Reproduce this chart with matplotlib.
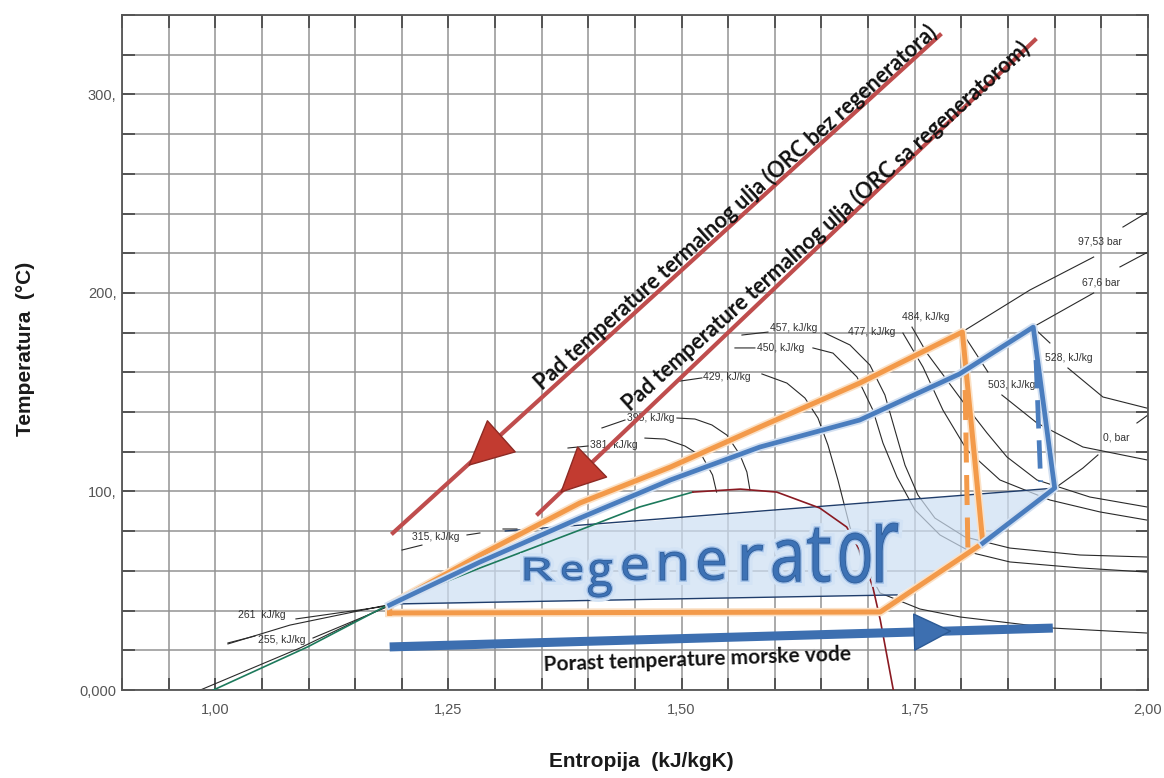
import numpy as np
import matplotlib
matplotlib.use('Agg')
import matplotlib.pyplot as plt
import matplotlib.patheffects as pe
import matplotlib.transforms as mtransforms
from matplotlib.textpath import TextPath
from matplotlib.patches import PathPatch, Polygon
from matplotlib.font_manager import FontProperties

# ---- axes ----
s_ticks = [1.00, 1.25, 1.50, 1.75, 2.00]
s_tick_labels = ['1,00', '1,25', '1,50', '1,75', '2,00']
t_ticks = [0, 100, 200, 300]
t_tick_labels = ['0,000', '100,', '200,', '300,']

# ---- saturation dome ----
liquid_s = [0.998, 1.099, 1.185, 1.284, 1.391, 1.455, 1.512]
liquid_t = [0, 21.7, 42.8, 61.5, 80.6, 92.2, 99.7]
vapor_s = [1.512, 1.563, 1.602, 1.648, 1.677, 1.691, 1.705, 1.713, 1.727]
vapor_t = [99.7, 101.2, 99.7, 91.7, 82.1, 70.5, 51.9, 35.3, 0]
liq_black_s = [0.984, 1.091, 1.184]
liq_black_t = [0, 21.2, 42.3]

# ---- ORC cycles ----
orange_s = [1.187, 1.187, 1.284, 1.391, 1.488, 1.584, 1.691, 1.801, 1.823, 1.713, 1.187]
orange_t = [38.8, 42.8, 68.0, 94.2, 112.3, 132.5, 154.6, 180.3, 74.0, 39.3, 38.8]
orange_dash_s = [1.804, 1.807]
orange_dash_t = [151.1, 70.5]
blue_s = [1.187, 1.284, 1.391, 1.488, 1.584, 1.691, 1.798, 1.877, 1.900, 1.823]
blue_t = [42.8, 64.5, 86.6, 105.8, 122.4, 136.0, 159.2, 182.8, 101.7, 74.0]
blue_dash_s = [1.880, 1.885]
blue_dash_t = [166.2, 104.8]

# ---- regenerator zone ----
regen_s = [1.187, 1.284, 1.348, 1.900, 1.823, 1.731]
regen_t = [42.8, 65.5, 80.6, 101.7, 74.0, 47.9]
regen_top_s = [1.311, 1.900]
regen_top_t = [80.1, 101.7]
regen_bot_s = [1.187, 1.731]
regen_bot_t = [43.3, 47.9]

# ---- arrows ----
oil1_s = [1.1905, 1.777]
oil1_t = [79.1, 329.9]
oil1_head = [(1.301, 125.4), (1.271, 112.8)]
oil2_s = [1.346, 1.8788]
oil2_t = [88.7, 327.4]
oil2_head = [(1.3985, 112.3), (1.3696, 99.2)]
sea_s = [1.187, 1.898]
sea_t = [21.7, 31.2]
sea_head = [(1.7534, 29.2), (1.7898, 29.7)]

# ---- isenthalps / isobars (thin black) ----
h255_s = [1.0136, 1.0426, None, 1.1048, 1.1841]
h255_t = [23.7, 27.2, None, 26.2, 41.8]
h261_s = [1.0136, 1.0801, 1.1841, None, 1.0865, 1.1841]
h261_t = [23.2, 32.7, 42.8, None, 35.8, 42.3]
h315_s = [1.2002, 1.2216, None, 1.2699, 1.2838, None, 1.3085, 1.3235]
h315_t = [70.5, 73.0, None, 78.1, 79.1, None, 81.1, 81.1]
h381_s = [1.3782, 1.3996, None, 1.4607, 1.4821, 1.5036, 1.5225, 1.5332, 1.5375]
h381_t = [121.9, 122.9, None, 126.9, 126.4, 122.9, 117.4, 108.3, 99.7]
h395_s = [1.4146, 1.4393, None, 1.495, 1.5143, 1.5325, 1.5486, 1.5626, 1.570, 1.5733]
h395_t = [132.0, 136.0, None, 137.0, 136.5, 133.5, 128.4, 118.4, 109.8, 100.7]
h429_s = [1.4982, 1.5218, None, 1.5861, 1.6129, 1.6322, 1.6462, 1.6569, 1.6676, 1.6805,
          1.6934, 1.7127, 1.7555, 1.7984, 1.8981, 1.9989]
h429_t = [155.6, 157.2, None, 159.2, 154.6, 147.1, 137.0, 123.4, 105.8, 82.1,
          65.5, 48.9, 40.8, 36.8, 31.2, 28.7]
h450_s = [1.5572, 1.5786, None, 1.6408, 1.6623, 1.688, 1.7051, 1.7159, 1.7309, 1.7502,
          1.777, 1.8124, 1.852, 1.9271, 1.9989]
h450_t = [172.3, 172.3, None, 172.3, 169.7, 157.7, 141.0, 124.4, 107.3, 90.7,
          78.1, 69.0, 64.5, 61.5, 59.4]
h457_s = [1.5647, 1.5926, None, 1.6537, 1.6805, 1.7019, 1.718, 1.7287, 1.7395, 1.7534,
          1.7716, 1.8038, 1.852, 1.9271, 1.9989]
h457_t = [178.8, 180.3, None, 179.8, 173.8, 163.7, 148.6, 131.0, 113.3, 98.2,
          86.6, 77.1, 71.5, 68.0, 67.0]
h477_s = [1.7373, 1.7588, 1.7802, 1.8059, 1.8413, 1.8949, 1.9485, 1.9989]
h477_t = [179.8, 162.7, 141.0, 120.9, 105.8, 95.7, 89.7, 85.6]
h484_s = [1.747, 1.763, 1.7845, 1.8059, 1.8274, 1.8488, 1.881, 1.9378, 1.9989]
h484_t = [182.8, 169.7, 156.1, 142.5, 129.5, 117.4, 105.8, 97.2, 92.2]
h503_s = [1.8006, 1.8284, None, 1.8434, 1.881, 1.9303, 1.9989]
h503_t = [180.3, 160.2, None, 148.6, 134.5, 122.4, 115.9]
h528_s = [1.8767, 1.8949, None, 1.9142, 1.9517, 1.9989]
h528_t = [182.8, 174.8, None, 162.2, 147.6, 142.0]
p9753_s = [1.8006, 1.8735, 1.9418, None, 1.9732, 2.0]
p9753_t = [180.3, 201.5, 218.1, None, 233.2, 240.8]
p676_s = [1.8767, 1.9418, None, 1.97, 2.0]
p676_t = [182.8, 200.0, None, 213.1, 220.6]
p0_s = [1.9003, 1.9303, 1.9464, None, 1.9882, 2.0]
p0_t = [101.7, 111.8, 118.4, None, 134.5, 138.5]

curve_labels = ['255, kJ/kg', '261  kJ/kg', '315, kJ/kg', '381, kJ/kg', '395, kJ/kg',
                '429, kJ/kg', '450, kJ/kg', '457, kJ/kg', '477, kJ/kg', '484, kJ/kg',
                '503, kJ/kg', '528, kJ/kg', '97,53 bar', '67,6 bar', '0, bar']
label_s = [1.0458, 1.0244, 1.2109, 1.4017, 1.4414, 1.5229, 1.5808, 1.5947, 1.6784,
           1.7362, 1.8284, 1.8896, 1.9249, 1.9292, 1.9517]
label_t = [25.2, 37.8, 77.1, 123.4, 137.0, 157.7, 172.3, 182.3, 180.3,
           187.9, 153.6, 167.2, 225.7, 205.5, 127.4]

# ---- "Regenerator" letter boxes (s0, s1, t0, t1) ----
regen_letters = list('Regenerator')
letter_s0 = [1.332, 1.372, 1.400, 1.437, 1.477, 1.518, 1.565, 1.598, 1.635, 1.670, 1.709]
letter_s1 = [1.361, 1.393, 1.425, 1.463, 1.504, 1.546, 1.587, 1.627, 1.659, 1.702, 1.732]
letter_t0 = [55.4, 55.4, 46.8, 55.4, 55.4, 55.4, 55.4, 54.4, 54.4, 53.9, 54.4]
letter_t1 = [66.5, 64.5, 65.5, 68.0, 69.5, 71.5, 73.0, 75.6, 81.6, 79.1, 84.1]

SANS = ['Liberation Sans', 'DejaVu Sans']
BOLD = ['Lato', 'DejaVu Sans']


def thin(ax, s, t):
    s = [np.nan if v is None else v for v in s]
    t = [np.nan if v is None else v for v in t]
    ax.plot(s, t, color='#2a2a2a', lw=0.8, zorder=2)


def head(ax, pts, fc, ec, hl, hw):
    (bs, bt), (ts, tt) = pts
    ax.annotate('', xy=(ts, tt), xytext=(bs, bt),
                arrowprops=dict(arrowstyle='-|>,head_length=%s,head_width=%s' % (hl, hw),
                                mutation_scale=20, fc=fc, ec=ec, lw=1,
                                shrinkA=0, shrinkB=0), zorder=8)


def word(ax):
    fp = FontProperties(family='Open Sans')
    for ch, s0, s1, t0, t1 in zip(regen_letters, letter_s0, letter_s1, letter_t0, letter_t1):
        tp = TextPath((0, 0), ch, size=100, prop=fp)
        box = mtransforms.Bbox([[s0, t0], [s1, t1]])
        tr = mtransforms.BboxTransform(tp.get_extents(), box) + ax.transData
        p = PathPatch(tp, transform=tr, fc='#3d72b5', ec='#2b5a97', lw=0.6, zorder=9)
        p.set_path_effects([pe.Stroke(linewidth=7, foreground='#d3e3f5'),
                            pe.Stroke(linewidth=2.5, foreground='#9dbde6'), pe.Normal()])
        ax.add_patch(p)


fig = plt.figure(figsize=(11.64, 7.78), dpi=100)
ax = fig.add_axes([0.1048, 0.1131, 0.8814, 0.8676])
ax.set_xlim(0.90, 2.00)
ax.set_ylim(0, 340)

ax.set_xticks(s_ticks)
ax.set_xticklabels(s_tick_labels)
ax.set_yticks(t_ticks)
ax.set_yticklabels(t_tick_labels)
ax.set_xticks(np.arange(0.90, 2.001, 0.05), minor=True)
ax.set_yticks(np.arange(0, 341, 20), minor=True)
ax.grid(which='both', color='#939393', lw=1.1, zorder=0)
ax.set_axisbelow(True)
ax.tick_params(which='both', direction='in', length=9, width=1.2, color='#444444',
               top=True, right=True, labelsize=10.5, labelcolor='#555555')
ax.tick_params(axis='x', pad=9)
ax.tick_params(axis='y', pad=4)
for lbl in ax.get_xticklabels() + ax.get_yticklabels():
    lbl.set_family(SANS)
for sp in ax.spines.values():
    sp.set_color('#555555')
    sp.set_linewidth(1.3)

# thin property lines
for s, t in [(h255_s, h255_t), (h261_s, h261_t), (h315_s, h315_t), (h381_s, h381_t),
             (h395_s, h395_t), (h429_s, h429_t), (h450_s, h450_t), (h457_s, h457_t),
             (h477_s, h477_t), (h484_s, h484_t), (h503_s, h503_t), (h528_s, h528_t),
             (p9753_s, p9753_t), (p676_s, p676_t), (p0_s, p0_t), (liq_black_s, liq_black_t)]:
    thin(ax, s, t)
for txt, s, t in zip(curve_labels, label_s, label_t):
    ax.text(s, t, txt, fontsize=7.5, color='#333333', ha='left', va='center',
            family=SANS, zorder=3)

# regenerator shaded zone
ax.add_patch(Polygon(list(zip(regen_s, regen_t)), closed=True, fc='#cddff3',
                     ec='none', alpha=0.7, zorder=3))
ax.plot(regen_top_s, regen_top_t, color='#1f3d6b', lw=1.0, zorder=4)
ax.plot(regen_bot_s, regen_bot_t, color='#1f3d6b', lw=1.0, zorder=4)

# saturation dome
ax.plot(liquid_s, liquid_t, color='#1d7a5c', lw=1.2, zorder=4)
ax.plot(vapor_s, vapor_t, color='#8a1a22', lw=1.2, zorder=4)

# cycles
glow_o = [pe.Stroke(linewidth=6, foreground='#fbe1c6'), pe.Normal()]
glow_b = [pe.Stroke(linewidth=6, foreground='#d3e0f1'), pe.Normal()]
ax.plot(orange_s, orange_t, color='#f39a4a', lw=3.6, solid_joinstyle='round',
        path_effects=glow_o, zorder=6)
ax.plot(orange_dash_s, orange_dash_t, color='#f39a4a', lw=3.6, dashes=(6, 2.5), zorder=6)
ax.plot(blue_s, blue_t, color='#4a7dbe', lw=3.4, solid_joinstyle='round',
        path_effects=glow_b, zorder=7)
ax.plot(blue_dash_s, blue_dash_t, color='#4a7dbe', lw=3.4, dashes=(6, 2.5), zorder=7)

# thermal oil arrows
ax.plot(oil1_s, oil1_t, color='#bf4d4d', lw=3.0, zorder=7)
ax.plot(oil2_s, oil2_t, color='#bf4d4d', lw=3.0, zorder=7)
head(ax, oil1_head, '#c23b30', '#8d2a24', 1.55, 0.75)
head(ax, oil2_head, '#c23b30', '#8d2a24', 1.55, 0.75)

# sea water arrow
ax.plot(sea_s, sea_t, color='#3d6fb0', lw=6.5, solid_capstyle='butt', zorder=7)
head(ax, sea_head, '#3d6fb0', '#2c5a95', 1.3, 0.65)

# text along arrows
ax.text(1.5626, 240.3, 'Pad temperature termalnog ulja (ORC bez regeneratora)',
        rotation=42, rotation_mode='anchor', ha='center', va='baseline',
        fontsize=15.5, fontweight='bold', family=BOLD, color='#111111', zorder=10)
ax.text(1.6601, 230.9, 'Pad temperature termalnog ulja (ORC sa regeneratorom)',
        rotation=42, rotation_mode='anchor', ha='center', va='baseline',
        fontsize=15.5, fontweight='bold', family=BOLD, color='#111111', zorder=10)
ax.text(1.5165, 15.5, 'Porast temperature morske vode', rotation=2,
        rotation_mode='anchor', ha='center', va='center',
        fontsize=15, fontweight='bold', family=BOLD, color='#111111', zorder=10)

word(ax)

fig.text(0.5507, 0.0206, 'Entropija  (kJ/kgK)', ha='center', va='center',
         fontsize=15, fontweight='bold', family=SANS, color='#1a1a1a')
fig.text(0.0215, 0.5514, 'Temperatura  (°C)', ha='center', va='center', rotation=90,
         fontsize=15, fontweight='bold', family=SANS, color='#1a1a1a')

fig.savefig('out.png', dpi=100)
